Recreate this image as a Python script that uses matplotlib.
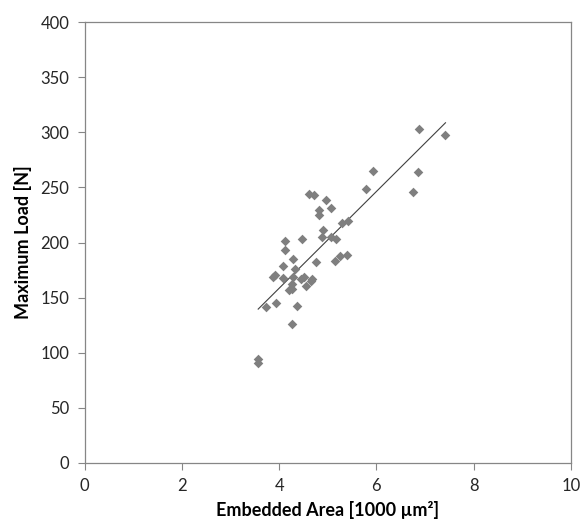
import numpy as np
import matplotlib
matplotlib.use("Agg")
import matplotlib.pyplot as plt

# embedded area [1000 um^2] vs maximum load [N]
area = [4.62, 4.72, 5.94, 6.85, 5.78, 6.76, 4.96, 5.07, 4.83, 4.82,
        5.29, 5.41, 4.90, 4.88, 5.06, 5.17, 4.13, 4.48, 4.13, 4.29,
        4.09, 4.75, 5.15, 5.26, 5.39, 4.33, 3.91, 3.87, 4.07, 4.28,
        4.46, 4.51, 4.68, 4.66, 4.26, 4.55, 4.20, 4.27, 3.74, 3.94,
        4.36, 4.27, 3.57, 3.57, 6.87, 7.42]
load = [244, 243, 264.6, 263.7, 248.5, 245.8, 238.5, 231.6, 229.5, 224.7,
        218, 219.5, 211.3, 205.3, 204.7, 203.5, 201.1, 203.2, 192.9, 184.7,
        178.7, 182.3, 183.2, 188, 188.9, 175.7, 170.2, 168.4, 167.8, 168.4,
        166.6, 168.4, 166.6, 165.4, 162.4, 160.5, 156.9, 157.8, 141.8, 144.9,
        142.1, 126.3, 90.5, 94, 302.7, 297.2]

x_ticks = [0, 2, 4, 6, 8, 10]
y_ticks = [0, 50, 100, 150, 200, 250, 300, 350, 400]

plt.rcParams['font.family'] = ['Lato', 'DejaVu Sans']

fig = plt.figure(figsize=(5.86, 5.25), dpi=100)
ax = fig.add_axes([0.1442, 0.1181, 0.8302, 0.8399])

ax.scatter(area, load, marker='D', s=24, color='#7f7f7f', linewidths=0, zorder=3)

# linear trend line over the data range
k, b = np.polyfit(area, load, 1)
xs = np.array([min(area), max(area)])
ax.plot(xs, k * xs + b, color='#404040', lw=0.8, zorder=2)

ax.set_xlim(0, 10)
ax.set_ylim(0, 400)
ax.set_xticks(x_ticks)
ax.set_yticks(y_ticks)
ax.tick_params(direction='out', length=5, width=0.8, color='#868686',
               labelsize=12, labelcolor='#262626', pad=6)
for s in ax.spines.values():
    s.set_color('#868686')
    s.set_linewidth(0.9)

ax.set_xlabel('Embedded Area [1000 µm²]', fontsize=13, fontweight='bold', labelpad=5)
ax.set_ylabel('Maximum Load [N]', fontsize=13, fontweight='bold', labelpad=6)

fig.savefig('out.png', dpi=100)
